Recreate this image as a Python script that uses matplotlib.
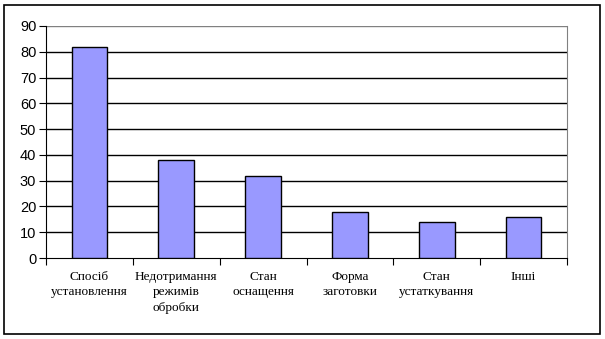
import matplotlib.pyplot as plt
from matplotlib.patches import Rectangle

# categories and values
categories = ['Спосіб\nустановлення', 'Недотримання\nрежимів\nобробки', 'Стан\nоснащення',
              'Форма\nзаготовки', 'Стан\nустаткування', 'Інші']
values = [82, 38, 32, 18, 14, 16]
y_ticks = [0, 10, 20, 30, 40, 50, 60, 70, 80, 90]

fig = plt.figure(figsize=(6.05, 3.39), dpi=100)
ax = fig.add_axes([46 / 605, 1 - 258 / 339, 521 / 605, 232 / 339])

# outer frame around the whole chart
fig.patches.append(Rectangle((4 / 605, 5 / 339), 596 / 605, 329 / 339, transform=fig.transFigure,
                             fill=False, edgecolor='black', linewidth=1.2))

x = list(range(len(values)))
ax.bar(x, values, width=0.41, color='#9999FF', edgecolor='black', linewidth=1, zorder=3)

ax.set_xlim(-0.5, len(values) - 0.5)
ax.set_ylim(0, 90)
ax.set_yticks(y_ticks)
ax.set_yticklabels([str(v) for v in y_ticks], fontsize=10.5, family='Liberation Sans')
for v in y_ticks[1:-1]:
    ax.axhline(v, color='black', linewidth=1, zorder=1)
ax.axhline(90, color='#808080', linewidth=1, zorder=1)

ax.set_xticks([i - 0.5 for i in range(len(values) + 1)])
ax.set_xticklabels([])
ax.tick_params(axis='x', length=5, direction='out', color='black')
ax.tick_params(axis='y', length=5, direction='out', color='black', pad=2)
for i, lab in enumerate(categories):
    ax.text(i, -5, lab, ha='center', va='top', fontsize=9.5, family='Liberation Serif',
            linespacing=1.4, transform=ax.transData)

ax.spines['top'].set_visible(False)
ax.spines['right'].set_color('#808080')
ax.spines['left'].set_color('black')
ax.spines['bottom'].set_color('black')

fig.savefig('out.png', dpi=100)
